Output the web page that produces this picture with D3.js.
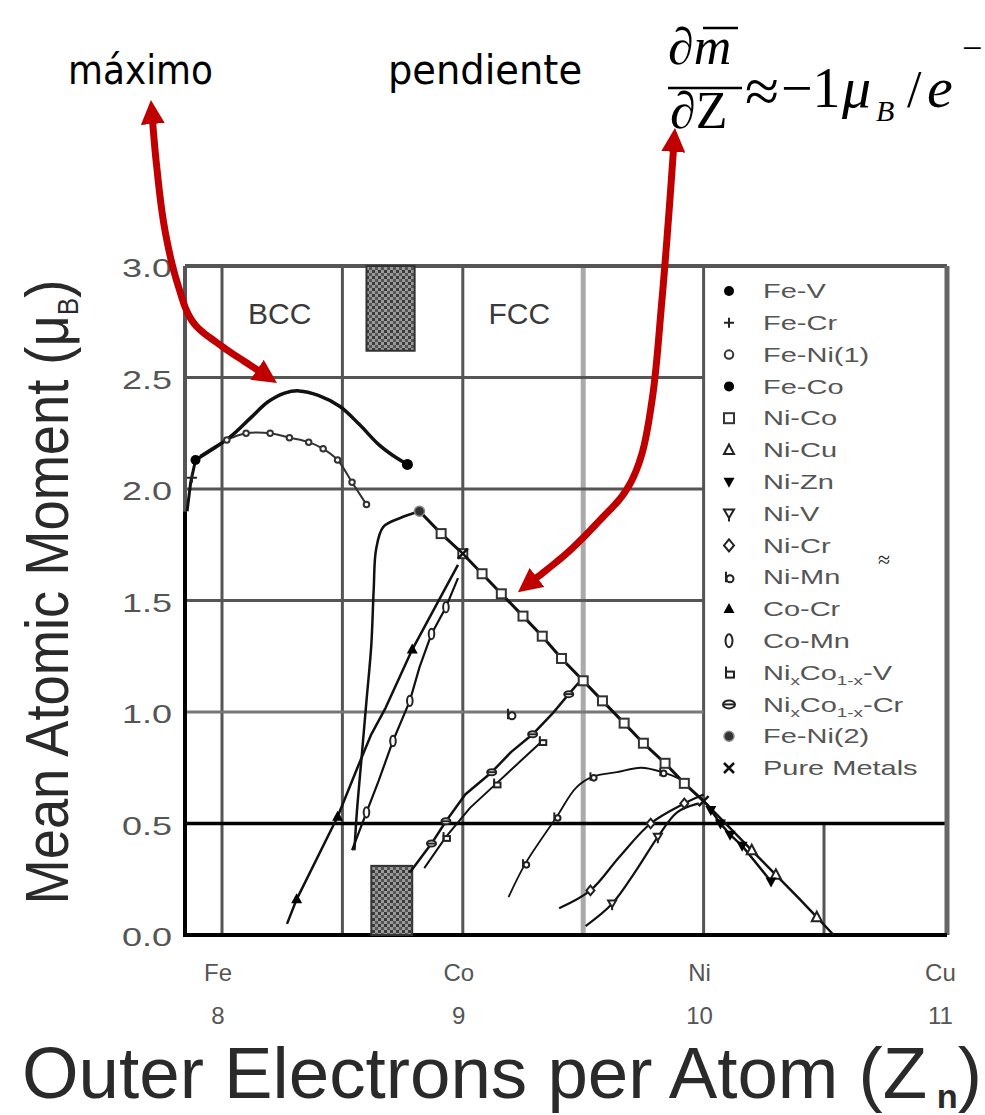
<!DOCTYPE html>
<html><head><meta charset="utf-8">
<script src="https://cdn.jsdelivr.net/npm/d3@7"></script>
<style>body{margin:0;background:#fff}svg{display:block}</style>
</head><body>
<svg id="c" width="985" height="1115"></svg>
<script>
// ---------------- DATA ----------------
const xTickZ = [8, 9, 10, 11];
const xTickSym = ["Fe", "Co", "Ni", "Cu"];
const xTickNum = ["8", "9", "10", "11"];
const yTicks = [0, 0.5, 1, 1.5, 2, 2.5, 3];
const yTickLabels = ["0.0", "0.5", "1.0", "1.5", "2.0", "2.5", "3.0"];
const gridX = [8, 8.5, 9, 9.5, 10, 10.5];
const gridY = [0.5, 1, 1.5, 2, 2.5];

const legendLabels = ["Fe-V", "Fe-Cr", "Fe-Ni(1)", "Fe-Co", "Ni-Co", "Ni-Cu", "Ni-Zn", "Ni-V", "Ni-Cr", "Ni-Mn",
  "Co-Cr", "Co-Mn", "Ni{x}Co{1-x}-V", "Ni{x}Co{1-x}-Cr", "Fe-Ni(2)", "Pure Metals"];

// series points [Z, moment]
const feV = [[7.89, 2.13], [7.87, 2.03], [7.855, 1.9]];
const feCr = [[7.875, 2.05]];
const feNi1 = [[7.91, 2.15], [8.02, 2.22], [8.10, 2.25], [8.20, 2.25], [8.28, 2.23], [8.36, 2.21], [8.42, 2.18], [8.48, 2.13], [8.54, 2.03], [8.60, 1.93]];
const feCo = [[7.89, 2.13], [8.03, 2.23], [8.12, 2.32], [8.19, 2.39], [8.26, 2.43], [8.32, 2.44], [8.40, 2.42], [8.49, 2.37], [8.57, 2.29], [8.65, 2.20], [8.71, 2.15], [8.77, 2.11]];
const niCo = [[8.82, 1.90], [8.91, 1.80], [9.00, 1.71], [9.08, 1.62], [9.16, 1.53], [9.25, 1.43], [9.33, 1.34], [9.41, 1.24], [9.50, 1.14], [9.58, 1.05], [9.67, 0.95], [9.75, 0.86], [9.84, 0.77], [9.92, 0.68], [10.00, 0.60]];
const niCu = [[10.00, 0.60], [10.10, 0.49], [10.20, 0.38], [10.30, 0.27], [10.40, 0.16], [10.47, 0.08], [10.54, 0.00]];
const niZn = [[10.03, 0.56], [10.07, 0.50], [10.11, 0.45], [10.16, 0.40], [10.28, 0.24]];
const niV = [[9.51, 0.04], [9.62, 0.14], [9.72, 0.29], [9.81, 0.44], [9.89, 0.55], [9.98, 0.59]];
const niCr = [[9.40, 0.12], [9.53, 0.20], [9.65, 0.35], [9.78, 0.50], [9.92, 0.59], [10.00, 0.63]];
const niMn = [[9.19, 0.17], [9.26, 0.32], [9.39, 0.53], [9.47, 0.66], [9.54, 0.71], [9.64, 0.73], [9.74, 0.75], [9.83, 0.73], [9.92, 0.69]];
const niMnLone = [[9.20, 0.99]];
const coCr = [[8.27, 0.05], [8.31, 0.16], [8.48, 0.53], [8.57, 0.77], [8.62, 0.90], [8.68, 1.02], [8.79, 1.28], [8.87, 1.44], [8.93, 1.56], [8.98, 1.66]];
const coMn = [[8.54, 0.38], [8.60, 0.55], [8.65, 0.69], [8.71, 0.87], [8.78, 1.05], [8.82, 1.20], [8.87, 1.35], [8.93, 1.47], [8.98, 1.60]];
const niCoV = [[8.84, 0.30], [8.93, 0.44], [9.03, 0.57], [9.14, 0.68], [9.24, 0.78], [9.33, 0.87]];
const niCoCr = [[8.78, 0.28], [8.87, 0.41], [8.93, 0.51], [9.01, 0.63], [9.12, 0.73], [9.20, 0.82], [9.29, 0.90], [9.37, 0.99], [9.44, 1.08], [9.48, 1.13]];
const feNi2 = [[8.55, 0.38], [8.56, 0.55], [8.58, 0.80], [8.60, 1.05], [8.62, 1.30], [8.63, 1.55], [8.64, 1.73], [8.67, 1.83], [8.74, 1.87], [8.82, 1.90]];
const pureMetals = [[9.0, 1.71], [10.0, 0.60]];

// phase-boundary hatched bands [Zmin, Zmax, mMin, mMax]
const hatchBands = [[8.60, 8.80, 2.62, 3.0], [8.62, 8.79, 0.0, 0.31]];
// annotation arrow paths in data coordinates [Z, m]
const arrowMax = [[7.705, 3.744], [7.726, 3.475], [7.763, 3.161], [7.817, 2.915], [7.879, 2.749], [7.992, 2.646], [8.116, 2.556], [8.228, 2.475]];
const arrowSlope = [[9.881, 3.619], [9.860, 3.296], [9.827, 2.848], [9.786, 2.399], [9.736, 2.130], [9.674, 1.987], [9.570, 1.861], [9.433, 1.713], [9.229, 1.538]];

// ---------------- SETUP ----------------
const svg = d3.select("#c");
const x = d3.scaleLinear().domain([8, 10.5]).range([222, 824]);
const y = d3.scaleLinear().domain([0, 3]).range([935, 266]);
const L = 185, R = 947, T = y(3), B = y(0);
const sans = "'Liberation Sans', Arial, sans-serif";
const serif = "'Liberation Serif', 'Times New Roman', serif";

const defs = svg.append("defs");
const pat = defs.append("pattern").attr("id", "hatch").attr("width", 6).attr("height", 6).attr("patternUnits", "userSpaceOnUse");
pat.append("rect").attr("width", 6).attr("height", 6).attr("fill", "#9a9a9a");
pat.append("rect").attr("width", 3).attr("height", 3).attr("fill", "#3a3a3a");
pat.append("rect").attr("x", 3).attr("y", 3).attr("width", 3).attr("height", 3).attr("fill", "#555");
const ah = defs.append("marker").attr("id", "ah").attr("viewBox", "0 0 10 10")
  .attr("refX", 3.3).attr("refY", 5).attr("markerWidth", 24).attr("markerHeight", 24)
  .attr("markerUnits", "userSpaceOnUse").attr("orient", "auto-start-reverse");
ah.append("path").attr("d", "M0,0 L10,5 L0,10 Z").attr("fill", "#c00000");

// ---------------- GRID ----------------
const grid = svg.append("g");
gridX.forEach(gz => {
  grid.append("line").attr("x1", x(gz)).attr("x2", x(gz))
    .attr("y1", gz === 10.5 ? y(0.5) : T).attr("y2", B)
    .attr("stroke", gz === 9.5 ? "#aaa" : "#555").attr("stroke-width", gz === 9.5 ? 5 : 3);
});
gridY.forEach(gy => {
  grid.append("line").attr("x1", L).attr("x2", gy === 0.5 ? R : x(10))
    .attr("y1", y(gy)).attr("y2", y(gy))
    .attr("stroke", gy === 0.5 ? "#000" : (gy === 1 ? "#777" : "#555"))
    .attr("stroke-width", gy === 0.5 ? 3.5 : 3);
});
// frame
grid.append("line").attr("x1", L).attr("x2", R).attr("y1", T).attr("y2", T).attr("stroke", "#555").attr("stroke-width", 4);
grid.append("line").attr("x1", R).attr("x2", R).attr("y1", T).attr("y2", B).attr("stroke", "#666").attr("stroke-width", 5);
grid.append("line").attr("x1", L).attr("x2", L).attr("y1", T).attr("y2", y(1.9)).attr("stroke", "#555").attr("stroke-width", 4);
grid.append("line").attr("x1", L).attr("x2", L).attr("y1", y(1.9)).attr("y2", B + 2).attr("stroke", "#000").attr("stroke-width", 4);
grid.append("line").attr("x1", L).attr("x2", R).attr("y1", B).attr("y2", B).attr("stroke", "#000").attr("stroke-width", 4);

// hatched bands
svg.append("g").selectAll("rect").data(hatchBands).join("rect")
  .attr("x", d => x(d[0])).attr("y", d => y(d[3]))
  .attr("width", d => x(d[1]) - x(d[0])).attr("height", d => y(d[2]) - y(d[3]))
  .attr("fill", "url(#hatch)").attr("stroke", "#333").attr("stroke-width", 2);

// phase labels
[["BCC", 8.24], ["FCC", 9.235]].forEach(([t, z]) => {
  svg.append("text").attr("x", x(z)).attr("y", y(2.79)).attr("dy", "0.36em").attr("text-anchor", "middle")
    .attr("font-family", sans).attr("font-size", 30).attr("fill", "#3a3a3a").text(t);
});

// ---------------- MARKERS ----------------
function marker(g, type, cx, cy, k) {
  const s = 5 * (k || 1);
  const st = "#222", sw = 2;
  switch (type) {
    case "dot": g.append("circle").attr("cx", cx).attr("cy", cy).attr("r", s).attr("fill", "#000"); break;
    case "gdot": g.append("circle").attr("cx", cx).attr("cy", cy).attr("r", s).attr("fill", "#333").attr("stroke", "#888").attr("stroke-width", 1.5); break;
    case "plus": g.append("path").attr("d", `M${cx - s},${cy}H${cx + s}M${cx},${cy - s}V${cy + s}`).attr("stroke", st).attr("stroke-width", sw); break;
    case "ocircle": g.append("circle").attr("cx", cx).attr("cy", cy).attr("r", s * 0.85).attr("fill", "#fff").attr("stroke", "#333").attr("stroke-width", sw); break;
    case "osquare": g.append("rect").attr("x", cx - s).attr("y", cy - s).attr("width", 2 * s).attr("height", 2 * s).attr("fill", "#fff").attr("stroke", "#333").attr("stroke-width", sw); break;
    case "otri": g.append("path").attr("d", `M${cx},${cy - s * 1.1}L${cx + s},${cy + s * 0.8}L${cx - s},${cy + s * 0.8}Z`).attr("fill", "#fff").attr("stroke", st).attr("stroke-width", sw); break;
    case "ftri": g.append("path").attr("d", `M${cx},${cy - s * 1.2}L${cx + s * 1.1},${cy + s * 0.8}L${cx - s * 1.1},${cy + s * 0.8}Z`).attr("fill", "#000"); break;
    case "ftridown": g.append("path").attr("d", `M${cx - s * 1.1},${cy - s * 0.8}L${cx + s * 1.1},${cy - s * 0.8}L${cx},${cy + s * 1.2}Z`).attr("fill", "#000"); break;
    case "otridown":
      g.append("path").attr("d", `M${cx - s},${cy - s * 0.8}L${cx + s},${cy - s * 0.8}L${cx},${cy + s * 0.9}Z`).attr("fill", "#fff").attr("stroke", st).attr("stroke-width", sw);
      g.append("line").attr("x1", cx).attr("x2", cx).attr("y1", cy + s * 0.9).attr("y2", cy + s * 1.6).attr("stroke", st).attr("stroke-width", sw); break;
    case "odiamond": g.append("path").attr("d", `M${cx},${cy - s * 1.2}L${cx + s},${cy}L${cx},${cy + s * 1.2}L${cx - s},${cy}Z`).attr("fill", "#fff").attr("stroke", st).attr("stroke-width", sw); break;
    case "ocirclestem":
      g.append("circle").attr("cx", cx + 1).attr("cy", cy + s * 0.3).attr("r", s * 0.7).attr("fill", "#fff").attr("stroke", st).attr("stroke-width", sw);
      g.append("line").attr("x1", cx - s * 0.6).attr("x2", cx - s * 0.6).attr("y1", cy - s * 1.1).attr("y2", cy + s).attr("stroke", st).attr("stroke-width", sw); break;
    case "oellipse": g.append("ellipse").attr("cx", cx).attr("cy", cy).attr("rx", s * 0.7).attr("ry", s * 1.3).attr("fill", "#fff").attr("stroke", st).attr("stroke-width", sw); break;
    case "osqstem":
      g.append("rect").attr("x", cx - s * 0.6).attr("y", cy - s * 0.2).attr("width", s * 1.6).attr("height", s * 1.2).attr("fill", "#fff").attr("stroke", st).attr("stroke-width", sw);
      g.append("line").attr("x1", cx - s * 0.6).attr("x2", cx - s * 0.6).attr("y1", cy - s * 1.2).attr("y2", cy + s).attr("stroke", st).attr("stroke-width", sw); break;
    case "ellipsebar":
      g.append("ellipse").attr("cx", cx).attr("cy", cy).attr("rx", s * 1.2).attr("ry", s * 0.8).attr("fill", "#fff").attr("stroke", st).attr("stroke-width", sw);
      g.append("line").attr("x1", cx - s * 1.2).attr("x2", cx + s * 1.2).attr("y1", cy).attr("y2", cy).attr("stroke", st).attr("stroke-width", sw); break;
    case "xmark": g.append("path").attr("d", `M${cx - s},${cy - s}L${cx + s},${cy + s}M${cx + s},${cy - s}L${cx - s},${cy + s}`).attr("stroke", "#111").attr("stroke-width", 2.5); break;
  }
}

// ---------------- SERIES ----------------
const legendMarkers = ["dot", "plus", "ocircle", "dot", "osquare", "otri", "ftridown", "otridown", "odiamond", "ocirclestem",
  "ftri", "oellipse", "osqstem", "ellipsebar", "gdot", "xmark"];
const series = [
  { name: "Fe-Ni(2)", pts: feNi2, w: 2.5, curve: d3.curveCatmullRom, mk: "gdot", idx: [9] },
  { name: "Fe-V", pts: feV, w: 3, curve: d3.curveLinear, mk: "dot", idx: [0] },
  { name: "Fe-Cr", pts: feCr, w: 0, mk: "plus", idx: [0] },
  { name: "Fe-Ni(1)", pts: feNi1, w: 2, curve: d3.curveCatmullRom, mk: "ocircle", idx: [1, 2, 3, 4, 5, 6, 7, 8, 9], k: 0.65, color: "#333" },
  { name: "Fe-Co", pts: feCo, w: 3.5, curve: d3.curveCatmullRom, mk: "dot", idx: [11], k: 1.1 },
  { name: "Ni-Co", pts: niCo, w: 3, curve: d3.curveLinear, mk: "osquare", idx: [1, 2, 3, 4, 5, 6, 7, 8, 9, 10, 11, 12, 13], k: 0.9 },
  { name: "Ni-Cu", pts: niCu, w: 2.5, curve: d3.curveLinear, mk: "otri", idx: [2, 3, 5] },
  { name: "Ni-Zn", pts: niZn, w: 2.5, curve: d3.curveLinear, mk: "ftridown", idx: [0, 1, 2, 3, 4] },
  { name: "Ni-V", pts: niV, w: 2.2, curve: d3.curveCatmullRom, mk: "otridown", idx: [1, 3], k: 0.8 },
  { name: "Ni-Cr", pts: niCr, w: 2.2, curve: d3.curveCatmullRom, mk: "odiamond", idx: [1, 3, 4], k: 0.8 },
  { name: "Ni-Mn", pts: niMn, w: 1.8, curve: d3.curveCatmullRom, mk: "ocirclestem", idx: [1, 2, 4, 7], k: 0.8 },
  { name: "Ni-Mn", pts: niMnLone, w: 0, mk: "ocirclestem", idx: [0] },
  { name: "Co-Cr", pts: coCr, w: 2.5, curve: d3.curveLinear, mk: "ftri", idx: [1, 2, 6] },
  { name: "Co-Mn", pts: coMn, w: 2.2, curve: d3.curveLinear, mk: "oellipse", idx: [1, 3, 4, 6, 7], k: 0.8 },
  { name: "NixCo1-x-V", pts: niCoV, w: 2, curve: d3.curveLinear, mk: "osqstem", idx: [1, 3, 5], k: 0.8 },
  { name: "NixCo1-x-Cr", pts: niCoCr, w: 2.5, curve: d3.curveLinear, mk: "ellipsebar", idx: [1, 2, 4, 6, 8], k: 0.75 },
  { name: "Pure Metals", pts: pureMetals, w: 0, mk: "xmark", idx: [0, 1] }
];
const linesG = svg.append("g"), marksG = svg.append("g");
series.forEach(s => {
  if (s.w > 0) {
    const ln = d3.line().x(d => x(d[0])).y(d => y(d[1])).curve(s.curve);
    linesG.append("path").attr("d", ln(s.pts)).attr("fill", "none")
      .attr("stroke", s.color || "#111").attr("stroke-width", s.w).attr("stroke-linejoin", "round");
  }
  s.idx.forEach(i => { const p = s.pts[i]; if (p) marker(marksG, s.mk, x(p[0]), y(p[1]), s.k); });
});

// ---------------- LEGEND ----------------
const lg = svg.append("g");
legendLabels.forEach((lab, i) => {
  const ly = 291 + i * 31.8;
  marker(lg, legendMarkers[i], 729, ly, 1);
  const t = lg.append("text").attr("transform", `translate(763,${ly}) scale(1.45,1)`).attr("dy", "0.36em")
    .attr("font-family", sans).attr("font-size", 20).attr("fill", "#555");
  lab.split(/(\{[^}]*\})/).filter(p => p.length).forEach(p => {
    if (p[0] === "{") t.append("tspan").attr("font-size", 13).attr("dy", 5).text(p.slice(1, -1));
    else { const sp = t.append("tspan").text(p); if (t.selectAll("tspan").size() > 1) sp.attr("dy", -5); }
  });
});
svg.append("text").attr("x", 884).attr("y", 567).attr("text-anchor", "middle").attr("font-family", serif).attr("font-size", 22).attr("fill", "#222").text("≈");

// ---------------- AXES TEXT ----------------
yTicks.forEach((v, i) => {
  svg.append("text").attr("transform", `translate(172,${y(v) + 2}) scale(1.44,1)`).attr("dy", "0.36em")
    .attr("text-anchor", "end").attr("font-family", sans).attr("font-size", 25).attr("fill", "#555").text(yTickLabels[i]);
});
xTickZ.forEach((z, i) => {
  svg.append("text").attr("x", x(z) - 4).attr("y", 981).attr("text-anchor", "middle").attr("font-family", sans).attr("font-size", 24).attr("fill", "#555").text(xTickSym[i]);
  svg.append("text").attr("x", x(z) - 4).attr("y", 1024).attr("text-anchor", "middle").attr("font-family", sans).attr("font-size", 24).attr("fill", "#555").text(xTickNum[i]);
});
// X title
const xt = svg.append("text").attr("font-family", sans).attr("font-size", 72).attr("fill", "#2a2a2a");
xt.append("tspan").text("Outer Electrons per Atom (Z");
xt.append("tspan").attr("font-size", 34).attr("font-weight", "bold").attr("dy", 10).text(" n");
xt.append("tspan").attr("dy", -10).text(")");
{
  const w = xt.node().getComputedTextLength();
  xt.attr("transform", `translate(22,1098) scale(${960 / w},1)`);
}
// Y title
const ytg = svg.append("g").attr("transform", "translate(68,592) rotate(-90)");
const yt = ytg.append("text").attr("font-family", sans).attr("font-size", 62).attr("fill", "#2a2a2a");
yt.append("tspan").text("Mean Atomic Moment (μ");
yt.append("tspan").attr("font-size", 30).attr("dy", 10).text("B");
yt.append("tspan").attr("dy", -10).text(")");
{
  const w = yt.node().getComputedTextLength();
  const sc = 625 / w;
  yt.attr("transform", `scale(${sc},1) translate(${-w / 2},0)`);
}

// ---------------- ANNOTATIONS ----------------
svg.append("text").attr("x", 68).attr("y", 84).attr("font-family", "'DejaVu Sans', sans-serif").attr("font-size", 40)
  .attr("textLength", 145).attr("lengthAdjust", "spacingAndGlyphs").attr("fill", "#000").text("máximo");
svg.append("text").attr("x", 388).attr("y", 84).attr("font-family", "'DejaVu Sans', sans-serif").attr("font-size", 40)
  .attr("textLength", 194).attr("lengthAdjust", "spacingAndGlyphs").attr("fill", "#000").text("pendiente");
// formula
const fg = svg.append("g").attr("font-family", serif).attr("fill", "#000");
const num = fg.append("text").attr("x", 668).attr("y", 64).attr("font-size", 52);
num.append("tspan").text("∂");
num.append("tspan").attr("font-style", "italic").text("m");
fg.append("line").attr("x1", 703).attr("x2", 738).attr("y1", 28).attr("y2", 28).attr("stroke", "#000").attr("stroke-width", 2.5);
fg.append("line").attr("x1", 668).attr("x2", 742).attr("y1", 88).attr("y2", 88).attr("stroke", "#000").attr("stroke-width", 2.5);
fg.append("text").attr("x", 670).attr("y", 128).attr("font-size", 52).text("∂Z");
fg.append("text").attr("x", 745).attr("y", 112).attr("font-size", 62).text("≈");
fg.append("text").attr("x", 781).attr("y", 107).attr("font-size", 56).text("−1");
fg.append("text").attr("x", 842).attr("y", 107).attr("font-size", 58).attr("font-style", "italic").text("μ");
fg.append("text").attr("x", 876).attr("y", 121).attr("font-size", 30).attr("font-style", "italic").text("B");
fg.append("text").attr("x", 907).attr("y", 107).attr("font-size", 52).text("/");
fg.append("text").attr("x", 927).attr("y", 107).attr("font-size", 58).attr("font-style", "italic").text("e");
fg.append("text").attr("x", 962).attr("y", 60).attr("font-size", 36).text("−");

// red arrows (double-headed), trimmed so heads land on the tips
function arrow(pts) {
  const ln = d3.line().x(d => x(d[0])).y(d => y(d[1])).curve(d3.curveCatmullRom.alpha(0.5));
  const tmp = svg.append("path").attr("d", ln(pts)).attr("fill", "none");
  const len = tmp.node().getTotalLength(), trim = 16, n = 80, out = [];
  for (let i = 0; i <= n; i++) {
    const p = tmp.node().getPointAtLength(trim + (len - 2 * trim) * i / n);
    out.push([p.x, p.y]);
  }
  tmp.remove();
  svg.append("path").attr("d", d3.line()(out)).attr("fill", "none").attr("stroke", "#c00000")
    .attr("stroke-width", 7).attr("stroke-linejoin", "round")
    .attr("marker-start", "url(#ah)").attr("marker-end", "url(#ah)");
}
arrow(arrowMax);
arrow(arrowSlope);
</script>
</body></html>
